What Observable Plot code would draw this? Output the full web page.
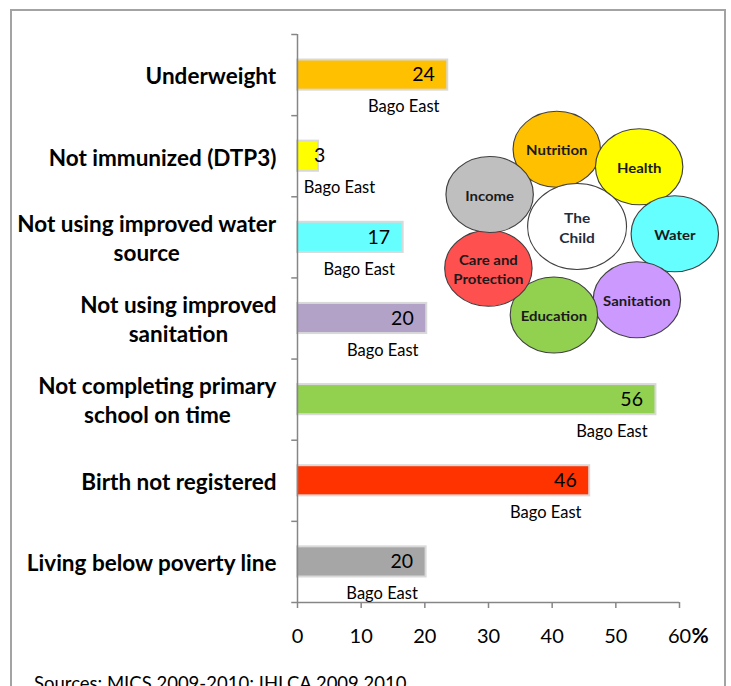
<!DOCTYPE html>
<html><head><meta charset="utf-8">
<script src="https://cdn.jsdelivr.net/npm/d3@7"></script>
<script src="https://cdn.jsdelivr.net/npm/@observablehq/plot@0.6"></script>
<style>
html,body{margin:0;padding:0;background:#fff;}
#wrap{position:relative;width:731px;height:686px;overflow:hidden;font-family:Lato,sans-serif;}
#frame{position:absolute;left:10px;top:9px;width:716px;height:720px;border:2px solid #a3a3a3;box-sizing:border-box;pointer-events:none}
#chart{position:absolute;left:0;top:0}
#circles{position:absolute;left:427px;top:92px;transform:scaleX(1.15);transform-origin:0 0}
#source{position:absolute;left:34px;top:674px;font-size:18.5px;line-height:18px;color:#000;white-space:nowrap}
</style></head><body>
<div id="wrap"><div id="frame"></div><div id="chart"></div><div id="circles"></div><div id="source">Sources: MICS 2009-2010; IHLCA 2009 2010</div></div>
<script>
// ---- data ----
const categories = ["Underweight", "Not immunized (DTP3)", "Not using improved water\nsource", "Not using improved\nsanitation", "Not completing primary\nschool on time", "Birth not registered", "Living below poverty line"];
const values = [23.6, 3.3, 16.6, 20.3, 56.3, 45.9, 20.2];
const valueLabels = ["24", "3", "17", "20", "56", "46", "20"];
const seriesName = "Bago East";
const barColors = ["#FFC000", "#FFFF00", "#66FFFF", "#B3A2C7", "#92D050", "#FF3300", "#A6A6A6"];
const xTicks = [0, 10, 20, 30, 40, 50, 60];
const themes = ["Nutrition", "Health", "Water", "Sanitation", "Education", "Care and\nProtection", "Income"];
const themeColors = ["#FFC000", "#FFFF00", "#66FFFF", "#CC99FF", "#92D050", "#FF5050", "#BFBFBF"];
const centerLabel = "The\nChild";

const rows = categories.map((c, i) => ({category: c, value: values[i], label: valueLabels[i], color: barColors[i]}));

// ---- layout ----
const W = 731, H = 660, mT = 34, mB = 58, mL = 297, mR = 52;
const step = (H - mT - mB) / categories.length;
const axisGray = "#868686";

const chart = Plot.plot({
  width: W, height: H,
  marginTop: mT, marginBottom: mB, marginLeft: mL, marginRight: mR,
  style: {background: "transparent", fontFamily: "Lato, sans-serif", color: "#000", maxWidth: "none"},
  x: {domain: [0, 60], axis: null},
  y: {domain: categories, padding: 0, round: false, axis: null},
  color: {type: "identity"},
  marks: [
    Plot.barX(rows, {x: "value", y: "category", fill: "color", stroke: "#d9d9d9", strokeWidth: 2, insetTop: 25.5, insetBottom: 25.5}),
    Plot.ruleX([0], {stroke: axisGray, strokeWidth: 1.5}),
    Plot.ruleY(categories, {y: d => d, x1: -0.9, x2: 0, dy: -step / 2, stroke: axisGray, strokeWidth: 1.5}),
    Plot.ruleY([categories[categories.length - 1]], {y: d => d, x1: -0.9, x2: 60, dy: step / 2, stroke: axisGray, strokeWidth: 1.5}),
    Plot.axisY({tickSize: 0, tickPadding: 21, fontSize: 22.5, fontWeight: "bold", lineHeight: 1.29, label: null}),
    Plot.axisX({ticks: xTicks, tickSize: 6, tickPadding: 20, fontSize: 20, stroke: axisGray, strokeWidth: 1.5, label: null, tickFormat: d => String(d)}),
    Plot.text([60], {x: d => d, frameAnchor: "bottom", lineAnchor: "middle", text: () => "%", dx: 12, dy: 34, textAnchor: "start", fontWeight: "bold", fontSize: 21}),
    Plot.text(rows, {x: d => Math.max(d.value, 6.4), y: "category", text: "label", textAnchor: "end", dx: -13, fontSize: 19.5}),
    Plot.text(rows, {x: d => Math.max(d.value, 13.5), y: "category", text: () => seriesName, dx: -44, dy: 32, fontSize: 16.5})
  ]
});
document.getElementById("chart").appendChild(chart);

// center the lines of each category label inside its right-aligned block
d3.select(chart).selectAll('g[aria-label="y-axis tick label"] text').each(function () {
  const w = this.getBBox().width;
  this.setAttribute("text-anchor", "middle");
  const t = this.getAttribute("transform") || "";
  this.setAttribute("transform", t + ` translate(${-w / 2},0)`);
});

// ---- the child circles ----
const ring = themes.map((name, i) => ({name, color: themeColors[i], angle: (-102 + i * 360 / 7) * Math.PI / 180}));
const cx = 130, cy = 140, R = 85;
const circles = Plot.plot({
  width: 260, height: 280, margin: 0,
  style: {background: "transparent", fontFamily: "Lato, sans-serif", maxWidth: "none", overflow: "visible"},
  x: {domain: [0, 260], range: [0, 260], axis: null},
  y: {domain: [0, 280], range: [0, 280], axis: null},
  color: {type: "identity"},
  marks: [
    Plot.dot(ring, {x: d => cx + R * Math.cos(d.angle), y: d => cy + R * Math.sin(d.angle), r: 38, fill: "color", stroke: "#404040", strokeWidth: 1}),
    Plot.dot([centerLabel], {x: () => cx, y: () => cy - 6, r: 43, fill: "white", stroke: "#404040", strokeWidth: 1}),
    Plot.text(ring, {x: d => cx + R * Math.cos(d.angle), y: d => cy + R * Math.sin(d.angle), text: "name", fontWeight: "bold", fontSize: 13, lineHeight: 1.45, fill: "#1a1a1a"}),
    Plot.text([centerLabel], {x: () => cx, y: () => cy - 6, text: d => d, fontWeight: "bold", fontSize: 13.5, lineHeight: 1.45, fill: "#1f2d3d"})
  ]
});
document.getElementById("circles").appendChild(circles);
</script>
</body></html>
